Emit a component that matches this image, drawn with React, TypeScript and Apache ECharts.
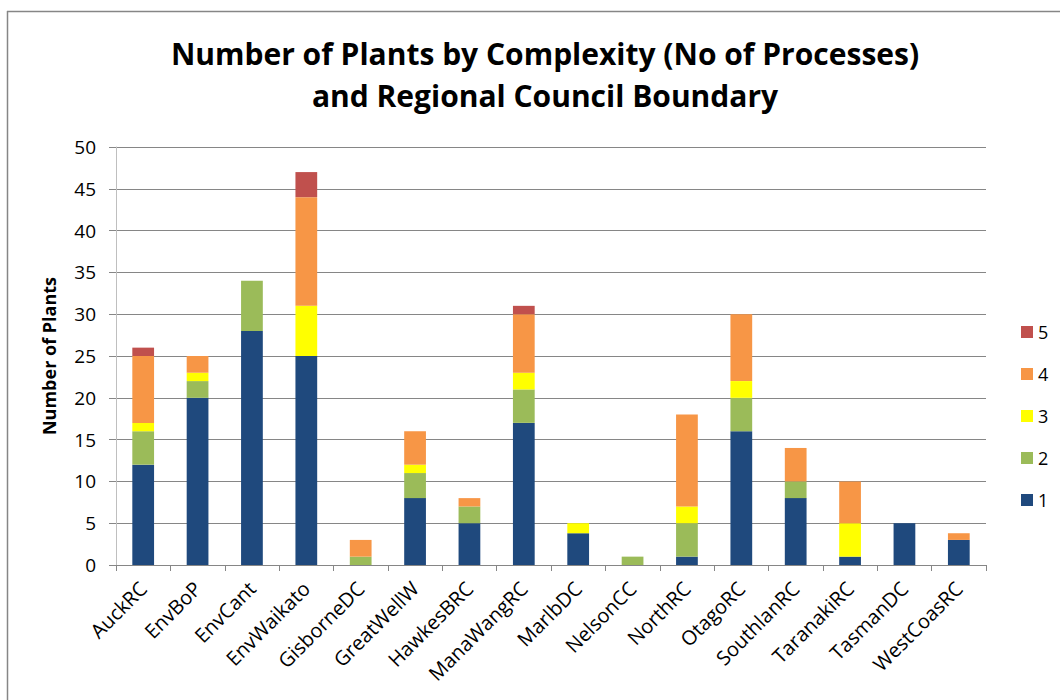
import React, { useEffect, useRef } from "react";
import * as echarts from "echarts";

const categories = ["AuckRC", "EnvBoP", "EnvCant", "EnvWaikato", "GisborneDC", "GreatWellW", "HawkesBRC", "ManaWangRC", "MarlbDC", "NelsonCC", "NorthRC", "OtagoRC", "SouthlanRC", "TaranakiRC", "TasmanDC", "WestCoasRC"];
const s1 = [12, 20, 28, 25, 0, 8, 5, 17, 3.8, 0, 1, 16, 8, 1, 5, 3];
const s2 = [4, 2, 6, 0, 1, 3, 2, 4, 0, 1, 4, 4, 2, 0, 0, 0];
const s3 = [1, 1, 0, 6, 0, 1, 0, 2, 1.2, 0, 2, 2, 0, 4, 0, 0];
const s4 = [8, 2, 0, 13, 2, 4, 1, 7, 0, 0, 11, 8, 4, 5, 0, 0.8];
const s5 = [1, 0, 0, 3, 0, 0, 0, 1, 0, 0, 0, 0, 0, 0, 0, 0];
const seriesNames = ["1", "2", "3", "4", "5"];
const colors = ["#1F497D", "#9BBB59", "#FFFF00", "#F79646", "#C0504D"];
const legendOrder = ["5", "4", "3", "2", "1"];

const FONT = "Open Sans";

export default function App() {
  const ref = useRef<HTMLDivElement>(null);
  useEffect(() => {
    if (!ref.current) return;
    const chart = echarts.init(ref.current, undefined, { renderer: "svg" });
    const values = [s1, s2, s3, s4, s5];
    chart.setOption({
      animation: false,
      backgroundColor: "#ffffff",
      textStyle: { fontFamily: FONT },
      title: {
        text: "Number of Plants by Complexity (No of Processes)\nand Regional Council Boundary",
        left: 540,
        textAlign: "center",
        top: 27,
        textStyle: { fontFamily: FONT, fontSize: 30, fontWeight: "bold", color: "#000", lineHeight: 42 },
      },
      legend: {
        data: legendOrder,
        orient: "vertical",
        left: 1016,
        top: 318,
        itemWidth: 12,
        itemHeight: 12,
        itemGap: 24,
        icon: "rect",
        textStyle: { fontFamily: FONT, fontSize: 18, color: "#000" },
      },
      graphic: [
        { type: "line", shape: { x1: 7, y1: 11.5, x2: 1060, y2: 11.5 }, style: { stroke: "#868686", lineWidth: 1.5 } },
        { type: "line", shape: { x1: 7.5, y1: 11, x2: 7.5, y2: 700 }, style: { stroke: "#868686", lineWidth: 1.5 } },
      ],
      grid: { left: 116, right: 74, top: 147, bottom: 135 },
      xAxis: {
        type: "category",
        data: categories,
        axisLine: { lineStyle: { color: "#868686" } },
        axisTick: { show: true, length: 6, lineStyle: { color: "#868686" } },
        axisLabel: { rotate: 45, fontSize: 20, color: "#000", margin: 20, fontFamily: FONT },
      },
      yAxis: {
        type: "value",
        min: 0,
        max: 50,
        interval: 5,
        name: "Number of Plants",
        nameLocation: "middle",
        nameGap: 58,
        nameTextStyle: { fontFamily: FONT, fontSize: 18, fontWeight: "bold", color: "#000" },
        axisLine: { show: true, lineStyle: { color: "#BFBFBF" } },
        axisTick: { show: true, inside: false, length: 7, lineStyle: { color: "#868686" } },
        axisLabel: { fontSize: 19, color: "#000", margin: 20, fontFamily: FONT },
        splitLine: { lineStyle: { color: "#868686", width: 1 } },
      },
      series: seriesNames.map((n, i) => ({
        name: n,
        type: "bar",
        stack: "total",
        barWidth: "40%",
        data: values[i],
        itemStyle: { color: colors[i] },
      })),
    });
    return () => chart.dispose();
  }, []);
  return <div ref={ref} style={{ position: "fixed", left: 0, top: 0, width: 1060, height: 700 }} />;
}
